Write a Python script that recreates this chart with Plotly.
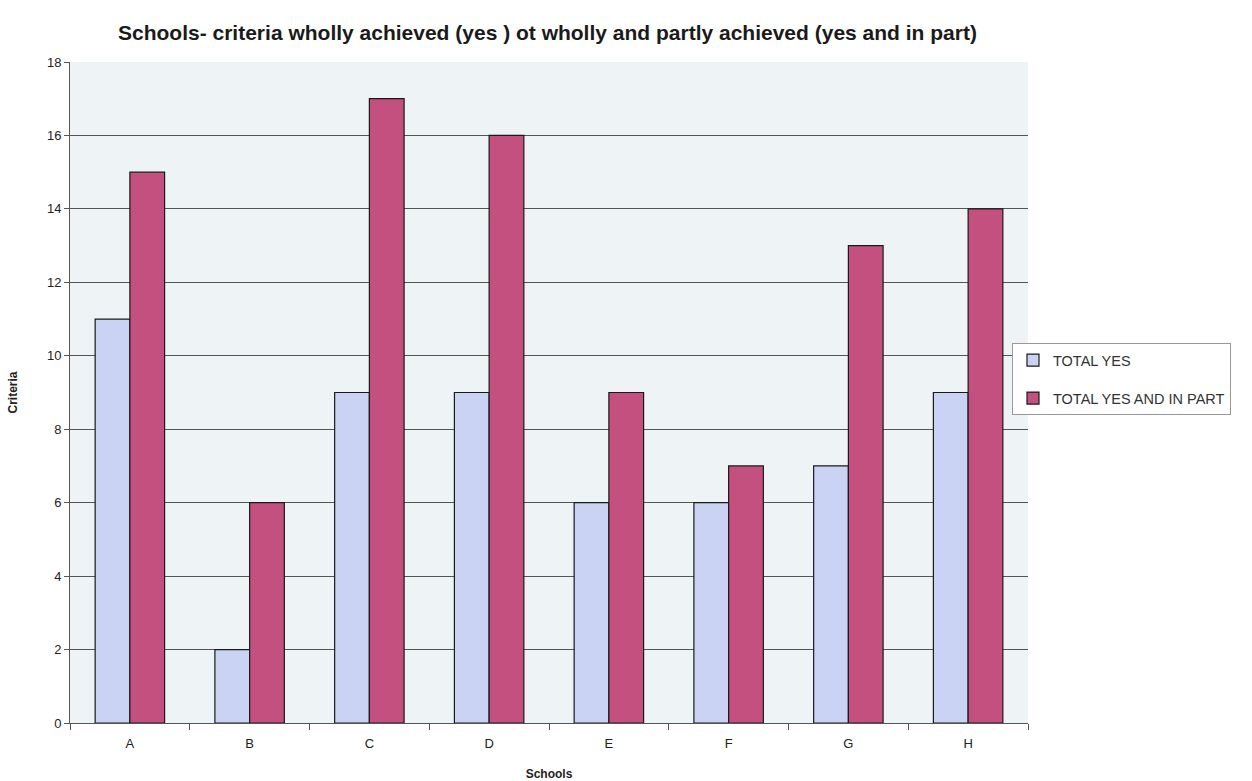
import plotly.graph_objects as go

schools = ["A", "B", "C", "D", "E", "F", "G", "H"]
total_yes = [11, 2, 9, 9, 6, 6, 7, 9]
total_yes_in_part = [15, 6, 17, 16, 9, 7, 13, 14]
y_ticks = [0, 2, 4, 6, 8, 10, 12, 14, 16, 18]

font_family = "Liberation Sans, Arial, sans-serif"

fig = go.Figure()
fig.add_trace(go.Bar(
    x=schools, y=total_yes, name="TOTAL YES", legendgroup="yes",
    marker=dict(color="#cad3f4", line=dict(color="#1a1a1a", width=1.2)),
))
fig.add_trace(go.Bar(
    x=schools, y=total_yes_in_part, name="TOTAL YES AND IN PART", legendgroup="part",
    marker=dict(color="#c4507f", line=dict(color="#1a1a1a", width=1.2)),
))

plot_left, plot_right = 70, 1028
fig.update_layout(
    width=1252, height=781,
    margin=dict(l=plot_left, r=1252 - plot_right, t=62, b=58, autoexpand=False),
    paper_bgcolor="white",
    plot_bgcolor="#eef4f5",
    barmode="group",
    bargap=0.42,
    bargroupgap=0,
    font=dict(family=font_family, color="#222222", size=13),
    title=dict(
        text="<b>Schools- criteria wholly achieved (yes ) ot wholly and partly achieved (yes and in part)</b>",
        x=118 / 1252, xanchor="left", y=1 - 33 / 781, yanchor="middle",
        font=dict(size=21, color="#1a1a1a"),
    ),
    xaxis=dict(
        title=dict(text="<b>Schools</b>", font=dict(size=12), standoff=20),
        automargin=False,
        showline=True, linecolor="#555555", linewidth=1,
        ticks="outside", ticklen=6, tickcolor="#555555",
        tickson="boundaries", ticklabelstandoff=8,
        showgrid=False,
    ),
    yaxis=dict(
        title=dict(text="<b>Criteria</b>", font=dict(size=12), standoff=26),
        automargin=False,
        range=[0, 18], tickvals=y_ticks,
        showline=True, linecolor="#555555", linewidth=1,
        ticks="outside", ticklen=5, tickcolor="#555555",
        showgrid=True, gridcolor="#555555", gridwidth=1,
        zeroline=False,
    ),
    legend=dict(
        x=(1012 - plot_left) / (plot_right - plot_left), y=0.52,
        yanchor="middle", xanchor="left",
        bgcolor="white", bordercolor="#999999", borderwidth=1,
        font=dict(size=14.5, color="#333333"),
        traceorder="grouped", tracegroupgap=16,
        entrywidth=250, entrywidthmode="pixels",
    ),
)

fig.write_html("out.html")
